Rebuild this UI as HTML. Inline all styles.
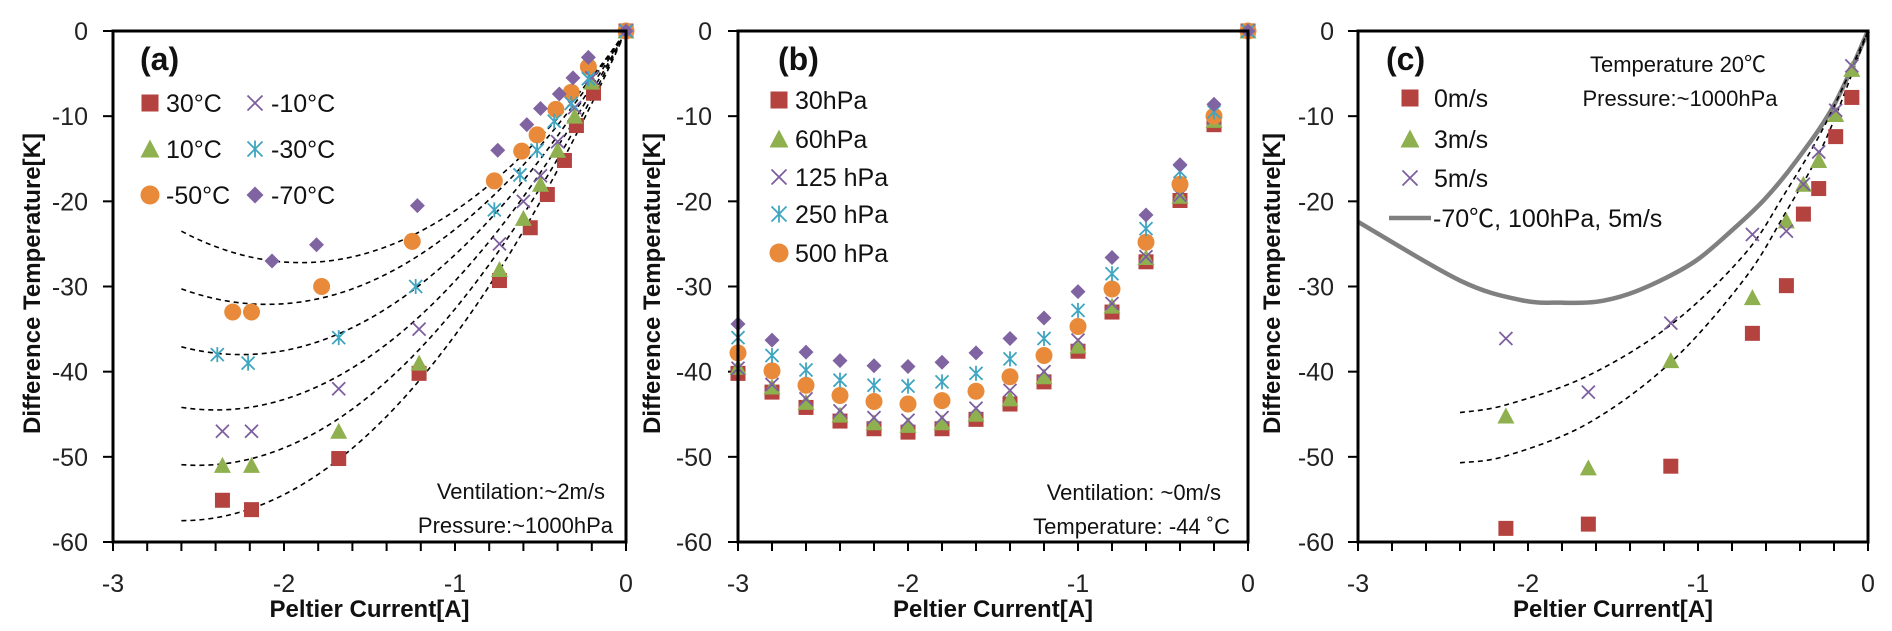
<!DOCTYPE html>
<html><head><meta charset="utf-8"><style>
html,body{margin:0;padding:0;background:#fff;}
svg{display:block;font-family:"Liberation Sans","Noto Sans CJK JP",sans-serif;}
</style></head><body>
<svg id="chart" width="1892" height="631" viewBox="0 0 1892 631" xmlns="http://www.w3.org/2000/svg"></svg>
<script>
// ---------- Panel (a) data ----------
const aX30 = [-2.36,-2.19,-1.68,-1.21,-0.74,-0.56,-0.46,-0.36,-0.29,-0.19,0];
const aY30 = [-55.1,-56.2,-50.2,-40.2,-29.3,-23.1,-19.2,-15.2,-11.1,-7.3,0];
const aX10 = [-2.36,-2.19,-1.68,-1.21,-0.74,-0.6,-0.5,-0.4,-0.3,-0.2,0];
const aY10 = [-51,-51,-47,-39,-28,-22,-18,-14,-10,-6,0];
const aXm10 = [-2.36,-2.19,-1.68,-1.21,-0.74,-0.6,-0.5,-0.4,-0.3,-0.2,0];
const aYm10 = [-47,-47,-42,-35,-25,-20,-17,-13,-9,-5.5,0];
const aXm30 = [-2.39,-2.21,-1.68,-1.23,-0.77,-0.62,-0.52,-0.42,-0.32,-0.22,0];
const aYm30 = [-38,-39,-36,-30,-21,-16.9,-14,-10.6,-8.5,-5.6,0];
const aXm50 = [-2.3,-2.19,-1.78,-1.25,-0.77,-0.61,-0.52,-0.41,-0.32,-0.22,0];
const aYm50 = [-33,-33,-30,-24.7,-17.6,-14.1,-12.2,-9.2,-7.2,-4.2,0];
const aXm70 = [-2.07,-1.81,-1.22,-0.75,-0.58,-0.5,-0.39,-0.31,-0.22,0];
const aYm70 = [-27,-25.1,-20.5,-14,-11,-9.1,-7.4,-5.5,-3.1,0];
const aFitMin = [-27.2,-32.1,-38.0,-44.5,-51,-57.5];
const aFitX0 = [-1.9,-2.1,-2.25,-2.4,-2.5,-2.6];
// ---------- Panel (b) data ----------
const bX = [-3,-2.8,-2.6,-2.4,-2.2,-2,-1.8,-1.6,-1.4,-1.2,-1,-0.8,-0.6,-0.4,-0.2,0];
const b30 = [-40.2,-42.4,-44.2,-45.8,-46.7,-47.1,-46.7,-45.6,-43.8,-41.2,-37.6,-33,-27.1,-19.9,-11,0];
const b60 = [-39.5,-41.8,-43.6,-45.1,-46,-46.3,-46,-45,-43.2,-40.6,-37,-32.3,-26.6,-19.4,-10.5,0];
const b125 = [-39.6,-41.5,-43.2,-44.6,-45.4,-45.7,-45.4,-44.3,-42.2,-40,-36.3,-32,-26.5,-19.3,-10.2,0];
const b250 = [-36,-38.1,-39.8,-41,-41.6,-41.7,-41.2,-40.2,-38.5,-36.1,-32.8,-28.5,-23.2,-16.5,-9.5,0];
const b500 = [-37.8,-39.9,-41.6,-42.8,-43.5,-43.8,-43.4,-42.3,-40.6,-38.1,-34.7,-30.3,-24.8,-18,-10,0];
const bExtra = [-34.4,-36.3,-37.7,-38.7,-39.3,-39.4,-38.9,-37.8,-36.1,-33.7,-30.6,-26.6,-21.6,-15.7,-8.6,0];
// ---------- Panel (c) data ----------
const cX = [-2.13,-1.645,-1.16,-0.68,-0.48,-0.38,-0.29,-0.19,-0.095];
const c0 = [-58.4,-57.9,-51.1,-35.5,-29.9,-21.5,-18.5,-12.4,-7.8];
const c3 = [-45.2,-51.3,-38.7,-31.3,-22.3,-18,-15.2,-9.8,-4.5];
const c5 = [-36.1,-42.4,-34.3,-23.9,-23.5,-18,-14.2,-9.3,-4.1];
const cLineX = [-3,-2.4,-2.04,-1.8,-1.6,-1.41,-1.19,-1,-0.8,-0.61,-0.42,-0.2,0];
const cLineY = [-22.4,-29.3,-31.6,-31.9,-31.8,-30.9,-29,-26.8,-23.4,-19.8,-15.2,-8.7,0];
const cFitX = [-2.4,-2.13,-1.65,-1.16,-0.73,-0.49,-0.25,0];
const cFitUpper = [-44.8,-43.9,-40.5,-34.5,-26.3,-19.1,-10.9,0];
const cFitLower = [-50.7,-49.9,-46.1,-38.9,-29.2,-21.5,-12.8,0];
const xTicks = ["-3","-2","-1","0"];
const yTicks = ["0","-10","-20","-30","-40","-50","-60"];

const RED="#B4423F",GREEN="#8FB04E",PURPLE="#7D5FA0",TEAL="#3FA5C0",ORANGE="#E88A3A",DIAM="#8064A2";
const NS="http://www.w3.org/2000/svg";
const svg=document.getElementById('chart');
function mk(tag,attrs,parent){const e=document.createElementNS(NS,tag);for(const k in attrs)e.setAttribute(k,attrs[k]);(parent||svg).appendChild(e);return e;}

function makePanel(id,L,R,T,B,tickRight,titleX){
  const g=mk('g',{});
  
  
  const sx=v=>L+(v+3)/3*(R-L);
  const sy=v=>T+(-v)/60*(B-T);
  // ticks
  for(let i=0;i<=15;i++){const x=sx(-3+i*0.2);const t=mk('line',{x1:x,x2:x,y1:B,y2:B+9,stroke:'#000','stroke-width':2},g);}
  yTicks.forEach((lab,i)=>{const y=sy(-10*i);const t=mk('line',{x1:L-10,x2:L,y1:y,y2:y,stroke:'#000','stroke-width':2},g);
    const tx=mk('text',{x:tickRight,y:y+9,'text-anchor':'end','font-size':25,fill:'#222'},g);tx.textContent=lab;});
  xTicks.forEach((lab,i)=>{const x=sx(-3+i);const tx=mk('text',{x:x,y:592,'text-anchor':'middle','font-size':25,fill:'#222'},g);tx.textContent=lab;});
  const xt=mk('text',{x:(L+R)/2,y:617,'text-anchor':'middle','font-size':24,'font-weight':'bold',fill:'#111'},g);xt.textContent='Peltier Current[A]';
  
  
  const yt=mk('text',{x:0,y:0,'text-anchor':'middle','font-size':24,'font-weight':'bold',fill:'#111',transform:`translate(${titleX},${(T+B)/2-3}) rotate(-90)`},g);yt.textContent='Difference Temperature[K]';
  
  
  return {g,sx,sy,L,R,T,B};
}
function frame(p){const r=mk('rect',{x:p.L,y:p.T,width:p.R-p.L,height:p.B-p.T,fill:'none',stroke:'#000','stroke-width':3},p.g);}
function marker(g,type,x,y,color,s){
  s=s||15;let e;
  if(type==='sq')e=mk('rect',{x:x-s/2,y:y-s/2,width:s,height:s,fill:color},g);
  else if(type==='tri')e=mk('polygon',{points:`${x},${y-s/2-1} ${x+s/2+1},${y+s/2} ${x-s/2-1},${y+s/2}`,fill:color},g);
  else if(type==='circ')e=mk('circle',{cx:x,cy:y,r:s/2+1,fill:color},g);
  else if(type==='dia')e=mk('polygon',{points:`${x},${y-s/2} ${x+s/2},${y} ${x},${y+s/2} ${x-s/2},${y}`,fill:color},g);
  else if(type==='x'){const h=s/2-1;e=mk('path',{d:`M${x-h},${y-h}L${x+h},${y+h}M${x-h},${y+h}L${x+h},${y-h}`,stroke:color,'stroke-width':1.8,fill:'none'},g);}
  else if(type==='ast'){const h=s/2-1;e=mk('path',{d:`M${x-h},${y-h}L${x+h},${y+h}M${x-h},${y+h}L${x+h},${y-h}M${x},${y-h-1}L${x},${y+h+1}`,stroke:color,'stroke-width':1.8,fill:'none'},g);}
  return e;
}
function series(p,xs,ys,type,color,name){
  xs.forEach((xv,i)=>{const m=marker(p.g,type,p.sx(xv),p.sy(ys[i]),color);
    
    });
}
function text(g,x,y,str,size,anchor,name,weight){const t=mk('text',{x:x,y:y,'font-size':size,'text-anchor':anchor||'start',fill:'#111','font-weight':weight||'normal'},g);t.textContent=str;
  
  return t;}
function legendMarker(g,type,x,y,color,name){const m=marker(g,type,x,y,color,17);
  
  }
function smoothPath(pts){let d=`M${pts[0][0]},${pts[0][1]}`;for(let i=0;i<pts.length-1;i++){const p0=pts[i-1]||pts[i],p1=pts[i],p2=pts[i+1],p3=pts[i+2]||p2;
  d+=`C${p1[0]+(p2[0]-p0[0])/6},${p1[1]+(p2[1]-p0[1])/6} ${p2[0]-(p3[0]-p1[0])/6},${p2[1]-(p3[1]-p1[1])/6} ${p2[0]},${p2[1]}`;}return d;}

// ---------- Panel a ----------
const pa=makePanel('a',113,626,31,542,88,40);
aFitMin.forEach((m,i)=>{const x0=aFitX0[i],k=-m/(x0*x0);const pts=[];for(let j=0;j<=52;j++){const xv=-2.6+j*0.05;pts.push([pa.sx(xv),pa.sy(k*xv*(xv-2*x0))]);}
  const c=mk('path',{d:'M'+pts.map(q=>q.join(',')).join('L'),fill:'none',stroke:'#000','stroke-width':1.6,'stroke-dasharray':'5,4'},pa.g);
  
  });
series(pa,aX30,aY30,'sq',RED,'a-30c');
series(pa,aX10,aY10,'tri',GREEN,'a-10c');
series(pa,aXm50,aYm50,'circ',ORANGE,'a-m50c');
series(pa,aXm10,aYm10,'x',PURPLE,'a-m10c');
series(pa,aXm30,aYm30,'ast',TEAL,'a-m30c');
series(pa,aXm70,aYm70,'dia',DIAM,'a-m70c');
frame(pa);
text(pa.g,140,70,'(a)',32,'start','panel-label-a','bold');
[['sq',RED,'30°C',150,103],['tri',GREEN,'10°C',150,149],['circ',ORANGE,'-50°C',150,195],['x',PURPLE,'-10°C',255,103],['ast',TEAL,'-30°C',255,149],['dia',DIAM,'-70°C',255,195]].forEach(l=>{legendMarker(pa.g,l[0],l[3],l[4],l[1],'legend-marker');text(pa.g,l[3]+16,l[4]+9,l[2],25,'start','legend-entry');});
text(pa.g,605,499,'Ventilation:~2m/s',22,'end','annotation-ventilation');
text(pa.g,613,533,'Pressure:~1000hPa',22,'end','annotation-pressure');

// ---------- Panel b ----------
const pb=makePanel('b',738,1248,31,542,712,660);
series(pb,bX,b30,'sq',RED,'b-30hpa');
series(pb,bX,b60,'tri',GREEN,'b-60hpa');
series(pb,bX,b125,'x',PURPLE,'b-125hpa');
series(pb,bX,b500,'circ',ORANGE,'b-500hpa');
series(pb,bX,b250,'ast',TEAL,'b-250hpa');
series(pb,bX,bExtra,'dia',DIAM,'b-extra');
frame(pb);
text(pb.g,778,70,'(b)',32,'start','panel-label-b','bold');
[['sq',RED,'30hPa',100],['tri',GREEN,'60hPa',139],['x',PURPLE,'125 hPa',177],['ast',TEAL,'250 hPa',214],['circ',ORANGE,'500 hPa',253]].forEach(l=>{legendMarker(pb.g,l[0],779,l[3],l[1],'legend-marker');text(pb.g,795,l[3]+9,l[2],25,'start','legend-entry');});
text(pb.g,1221,500,'Ventilation: ~0m/s',22,'end','annotation-ventilation');
text(pb.g,1230,534,'Temperature: -44 ˚C',22,'end','annotation-temperature');

// ---------- Panel c ----------
const pc=makePanel('c',1358,1868,31,542,1334,1280);
const gl=mk('path',{d:smoothPath(cLineX.map((v,i)=>[pc.sx(v),pc.sy(cLineY[i])])),fill:'none',stroke:'#808080','stroke-width':4.5},pc.g);


[cFitUpper,cFitLower].forEach(arr=>{const c=mk('path',{d:smoothPath(cFitX.map((v,i)=>[pc.sx(v),pc.sy(arr[i])])),fill:'none',stroke:'#000','stroke-width':1.6,'stroke-dasharray':'5,4'},pc.g);
  
  });
series(pc,cX,c0,'sq',RED,'c-0ms');
series(pc,cX,c3,'tri',GREEN,'c-3ms');
series(pc,cX,c5,'x',PURPLE,'c-5ms');
frame(pc);
text(pc.g,1386,70,'(c)',32,'start','panel-label-c','bold');
[['sq',RED,'0m/s',98],['tri',GREEN,'3m/s',139],['x',PURPLE,'5m/s',178]].forEach(l=>{legendMarker(pc.g,l[0],1410,l[3],l[1],'legend-marker');text(pc.g,1434,l[3]+9,l[2],25,'start','legend-entry');});
const ll=mk('line',{x1:1389,x2:1431,y1:218,y2:218,stroke:'#808080','stroke-width':4.5},pc.g);


text(pc.g,1433,227,'-70℃, 100hPa, 5m/s',25,'start','legend-entry');
text(pc.g,1678,72,'Temperature 20℃',22,'middle','annotation-temperature');
text(pc.g,1680,106,'Pressure:~1000hPa',22,'middle','annotation-pressure');
</script>
</body></html>
